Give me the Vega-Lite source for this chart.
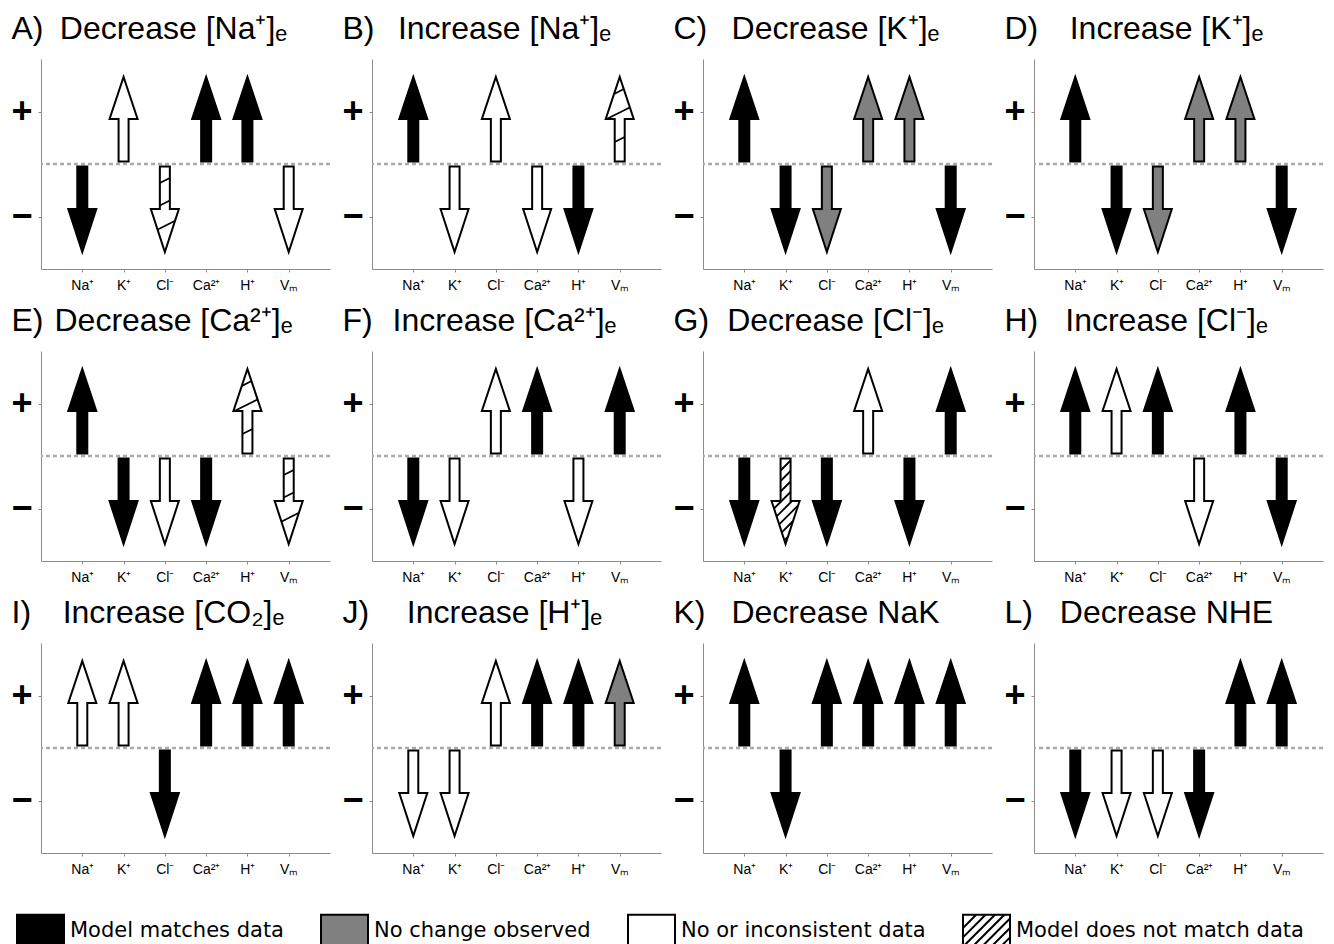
{
"$schema": "https://vega.github.io/schema/vega-lite/v6.json",
"padding": {"left": 10, "top": 12, "right": 5, "bottom": 0},
"background": "white",
"data": {"values": [
{"p":"A","c":"Na⁺","v":-1,"s":"m"},{"p":"A","c":"K⁺","v":1,"s":"w"},{"p":"A","c":"Cl⁻","v":-1,"s":"x","h":"s"},{"p":"A","c":"Ca²⁺","v":1,"s":"m"},{"p":"A","c":"H⁺","v":1,"s":"m"},{"p":"A","c":"Vₘ","v":-1,"s":"w"},
{"p":"B","c":"Na⁺","v":1,"s":"m"},{"p":"B","c":"K⁺","v":-1,"s":"w"},{"p":"B","c":"Cl⁻","v":1,"s":"w"},{"p":"B","c":"Ca²⁺","v":-1,"s":"w"},{"p":"B","c":"H⁺","v":-1,"s":"m"},{"p":"B","c":"Vₘ","v":1,"s":"x","h":"s"},
{"p":"C","c":"Na⁺","v":1,"s":"m"},{"p":"C","c":"K⁺","v":-1,"s":"m"},{"p":"C","c":"Cl⁻","v":-1,"s":"n"},{"p":"C","c":"Ca²⁺","v":1,"s":"n"},{"p":"C","c":"H⁺","v":1,"s":"n"},{"p":"C","c":"Vₘ","v":-1,"s":"m"},
{"p":"D","c":"Na⁺","v":1,"s":"m"},{"p":"D","c":"K⁺","v":-1,"s":"m"},{"p":"D","c":"Cl⁻","v":-1,"s":"n"},{"p":"D","c":"Ca²⁺","v":1,"s":"n"},{"p":"D","c":"H⁺","v":1,"s":"n"},{"p":"D","c":"Vₘ","v":-1,"s":"m"},
{"p":"E","c":"Na⁺","v":1,"s":"m"},{"p":"E","c":"K⁺","v":-1,"s":"m"},{"p":"E","c":"Cl⁻","v":-1,"s":"w"},{"p":"E","c":"Ca²⁺","v":-1,"s":"m"},{"p":"E","c":"H⁺","v":1,"s":"x","h":"s"},{"p":"E","c":"Vₘ","v":-1,"s":"x","h":"s"},
{"p":"F","c":"Na⁺","v":-1,"s":"m"},{"p":"F","c":"K⁺","v":-1,"s":"w"},{"p":"F","c":"Cl⁻","v":1,"s":"w"},{"p":"F","c":"Ca²⁺","v":1,"s":"m"},{"p":"F","c":"H⁺","v":-1,"s":"w"},{"p":"F","c":"Vₘ","v":1,"s":"m"},
{"p":"G","c":"Na⁺","v":-1,"s":"m"},{"p":"G","c":"K⁺","v":-1,"s":"x","h":"d"},{"p":"G","c":"Cl⁻","v":-1,"s":"m"},{"p":"G","c":"Ca²⁺","v":1,"s":"w"},{"p":"G","c":"H⁺","v":-1,"s":"m"},{"p":"G","c":"Vₘ","v":1,"s":"m"},
{"p":"H","c":"Na⁺","v":1,"s":"m"},{"p":"H","c":"K⁺","v":1,"s":"w"},{"p":"H","c":"Cl⁻","v":1,"s":"m"},{"p":"H","c":"Ca²⁺","v":-1,"s":"w"},{"p":"H","c":"H⁺","v":1,"s":"m"},{"p":"H","c":"Vₘ","v":-1,"s":"m"},
{"p":"I","c":"Na⁺","v":1,"s":"w"},{"p":"I","c":"K⁺","v":1,"s":"w"},{"p":"I","c":"Cl⁻","v":-1,"s":"m"},{"p":"I","c":"Ca²⁺","v":1,"s":"m"},{"p":"I","c":"H⁺","v":1,"s":"m"},{"p":"I","c":"Vₘ","v":1,"s":"m"},
{"p":"J","c":"Na⁺","v":-1,"s":"w"},{"p":"J","c":"K⁺","v":-1,"s":"w"},{"p":"J","c":"Cl⁻","v":1,"s":"w"},{"p":"J","c":"Ca²⁺","v":1,"s":"m"},{"p":"J","c":"H⁺","v":1,"s":"m"},{"p":"J","c":"Vₘ","v":1,"s":"n"},
{"p":"K","c":"Na⁺","v":1,"s":"m"},{"p":"K","c":"K⁺","v":-1,"s":"m"},{"p":"K","c":"Cl⁻","v":1,"s":"m"},{"p":"K","c":"Ca²⁺","v":1,"s":"m"},{"p":"K","c":"H⁺","v":1,"s":"m"},{"p":"K","c":"Vₘ","v":1,"s":"m"},
{"p":"L","c":"Na⁺","v":-1,"s":"m"},{"p":"L","c":"K⁺","v":-1,"s":"w"},{"p":"L","c":"Cl⁻","v":-1,"s":"w"},{"p":"L","c":"Ca²⁺","v":-1,"s":"m"},{"p":"L","c":"H⁺","v":1,"s":"m"},{"p":"L","c":"Vₘ","v":1,"s":"m"}
]},
"columns": 4,
"spacing": {"row": 82, "column": 42},
"bounds": "flush",
"concat": [
{"width":289,"height":210,"transform":[{"filter":"datum.p==='A'"}],
"encoding":{"y":{"field":"v","type":"quantitative","scale":{"domain":[-2,2],"nice":false},"axis":{"values":[-1,1],"labelExpr":"datum.value > 0 ? '+' : '−'"},"title":"A)"}},
"layer":[
{"transform":[{"filter":"datum.c==='Na⁺'"}],"mark":{"type":"rule","color":"#aaaaaa","strokeWidth":2.5,"strokeDash":[4,3]},"encoding":{"y":{"datum":0}}},
{"mark":{"type":"point","filled":true,"stroke":"black","strokeWidth":2,"size":10000,"opacity":1},"encoding":{"x":{"field":"c","type":"nominal","scale":{"type":"point","domain":["Na⁺","K⁺","Cl⁻","Ca²⁺","H⁺","Vₘ"],"padding":1},"title":"Decrease [Na⁺]ₑ"},"shape":{"field":"v","type":"nominal","scale":{"domain":[1,-1],"range":["M-0.1,1L-0.1,0.15L-0.28,0.15L0,-0.69L0.28,0.15L0.1,0.15L0.1,1Z","M-0.1,-1L-0.1,-0.15L-0.28,-0.15L0,0.71L0.28,-0.15L0.1,-0.15L0.1,-1Z"]},"legend":null},
"fill":{"field":"s","type":"nominal","scale":{"domain":["m","n","w","x"],"range":["black","#808080","white","white"]},
"legend":{"title":null,"orient":"none","legendX":-25,"legendY":847,"direction":"horizontal","symbolSize":2209,"labelFont":"DejaVu Sans","labelFontSize":21,"labelColor":"black","labelOffset":5,"labelLimit":0,"columnPadding":33,"padding":0,
"labelExpr":"datum.value === 'm' ? 'Model matches data' : datum.value === 'n' ? 'No change observed' : datum.value === 'w' ? 'No or inconsistent data' : 'Model does not match data'",
"encoding":{"symbols":{"shape":{"condition":{"test":"datum.value === 'x'","value":"M-1,-0.68L1,-0.68L1,0.68L-1,0.68ZM-1,-0.12L-0.44,-0.68M-1,0.28L-0.04,-0.68M-1,0.68L0.36,-0.68M-0.6,0.68L0.76,-0.68M-0.2,0.68L1,-0.52M0.2,0.68L1,-0.12M0.6,0.68L1,0.28"},"value":"M-1,-0.68L1,-0.68L1,0.68L-1,0.68Z"},"stroke":{"value":"black"},"strokeWidth":{"value":2}}}}}}},
{"transform":[{"filter":"datum.h==='s'"}],"mark":{"type":"point","filled":false,"color":"black","strokeWidth":1.8,"size":10000,"opacity":1},"encoding":{"x":{"field":"c","type":"nominal"},"shape":{"field":"v","type":"nominal","scale":{"domain":[1,-1],"range":["M-0.1,0.61L0.1,0.51M-0.26,0.15L0.2,-0.08M-0.11,-0.35L0.08,-0.45","M-0.1,-0.67L0.1,-0.77M-0.1,-0.22L0.1,-0.32M-0.14,0.26L0.195,0.09"]},"legend":null}}},
{"transform":[{"filter":"datum.h==='d'"}],"mark":{"type":"point","filled":false,"color":"black","strokeWidth":1.8,"size":10000,"opacity":1},"encoding":{"x":{"field":"c","type":"nominal"},"shape":{"field":"v","type":"nominal","scale":{"domain":[-1],"range":["M-0.1,-0.76L0.1,-0.96M-0.1,-0.55L0.1,-0.75M-0.1,-0.34L0.1,-0.54M-0.231,0L0.1,-0.33M-0.179,0.159L0.13,-0.15M-0.128,0.318L0.251,-0.061M-0.076,0.476L0.15,0.25M-0.025,0.635L0.048,0.562"]},"legend":null}}}
],
"resolve":{"scale":{"shape":"independent"}}},

{"width":289,"height":210,"transform":[{"filter":"datum.p==='B'"}],
"encoding":{"y":{"field":"v","type":"quantitative","scale":{"domain":[-2,2],"nice":false},"axis":{"values":[-1,1],"labelExpr":"datum.value > 0 ? '+' : '−'"},"title":"B)"}},
"layer":[
{"transform":[{"filter":"datum.c==='Na⁺'"}],"mark":{"type":"rule","color":"#aaaaaa","strokeWidth":2.5,"strokeDash":[4,3]},"encoding":{"y":{"datum":0}}},
{"mark":{"type":"point","filled":true,"stroke":"black","strokeWidth":2,"size":10000,"opacity":1},"encoding":{"x":{"field":"c","type":"nominal","scale":{"type":"point","domain":["Na⁺","K⁺","Cl⁻","Ca²⁺","H⁺","Vₘ"],"padding":1},"title":"Increase [Na⁺]ₑ"},"shape":{"field":"v","type":"nominal","scale":{"domain":[1,-1],"range":["M-0.1,1L-0.1,0.15L-0.28,0.15L0,-0.69L0.28,0.15L0.1,0.15L0.1,1Z","M-0.1,-1L-0.1,-0.15L-0.28,-0.15L0,0.71L0.28,-0.15L0.1,-0.15L0.1,-1Z"]},"legend":null},"fill":{"field":"s","type":"nominal","scale":{"domain":["m","n","w","x"],"range":["black","#808080","white","white"]}}}},
{"transform":[{"filter":"datum.h==='s'"}],"mark":{"type":"point","filled":false,"color":"black","strokeWidth":1.8,"size":10000,"opacity":1},"encoding":{"x":{"field":"c","type":"nominal"},"shape":{"field":"v","type":"nominal","scale":{"domain":[1,-1],"range":["M-0.1,0.61L0.1,0.51M-0.26,0.15L0.2,-0.08M-0.11,-0.35L0.08,-0.45","M-0.1,-0.67L0.1,-0.77M-0.1,-0.22L0.1,-0.32M-0.14,0.26L0.195,0.09"]},"legend":null}}},
{"transform":[{"filter":"datum.h==='d'"}],"mark":{"type":"point","filled":false,"color":"black","strokeWidth":1.8,"size":10000,"opacity":1},"encoding":{"x":{"field":"c","type":"nominal"},"shape":{"field":"v","type":"nominal","scale":{"domain":[-1],"range":["M-0.1,-0.76L0.1,-0.96M-0.1,-0.55L0.1,-0.75M-0.1,-0.34L0.1,-0.54M-0.231,0L0.1,-0.33M-0.179,0.159L0.13,-0.15M-0.128,0.318L0.251,-0.061M-0.076,0.476L0.15,0.25M-0.025,0.635L0.048,0.562"]},"legend":null}}}
],
"resolve":{"scale":{"shape":"independent"}}},

{"width":289,"height":210,"transform":[{"filter":"datum.p==='C'"}],
"encoding":{"y":{"field":"v","type":"quantitative","scale":{"domain":[-2,2],"nice":false},"axis":{"values":[-1,1],"labelExpr":"datum.value > 0 ? '+' : '−'"},"title":"C)"}},
"layer":[
{"transform":[{"filter":"datum.c==='Na⁺'"}],"mark":{"type":"rule","color":"#aaaaaa","strokeWidth":2.5,"strokeDash":[4,3]},"encoding":{"y":{"datum":0}}},
{"mark":{"type":"point","filled":true,"stroke":"black","strokeWidth":2,"size":10000,"opacity":1},"encoding":{"x":{"field":"c","type":"nominal","scale":{"type":"point","domain":["Na⁺","K⁺","Cl⁻","Ca²⁺","H⁺","Vₘ"],"padding":1},"title":"Decrease [K⁺]ₑ"},"shape":{"field":"v","type":"nominal","scale":{"domain":[1,-1],"range":["M-0.1,1L-0.1,0.15L-0.28,0.15L0,-0.69L0.28,0.15L0.1,0.15L0.1,1Z","M-0.1,-1L-0.1,-0.15L-0.28,-0.15L0,0.71L0.28,-0.15L0.1,-0.15L0.1,-1Z"]},"legend":null},"fill":{"field":"s","type":"nominal","scale":{"domain":["m","n","w","x"],"range":["black","#808080","white","white"]}}}},
{"transform":[{"filter":"datum.h==='s'"}],"mark":{"type":"point","filled":false,"color":"black","strokeWidth":1.8,"size":10000,"opacity":1},"encoding":{"x":{"field":"c","type":"nominal"},"shape":{"field":"v","type":"nominal","scale":{"domain":[1,-1],"range":["M-0.1,0.61L0.1,0.51M-0.26,0.15L0.2,-0.08M-0.11,-0.35L0.08,-0.45","M-0.1,-0.67L0.1,-0.77M-0.1,-0.22L0.1,-0.32M-0.14,0.26L0.195,0.09"]},"legend":null}}},
{"transform":[{"filter":"datum.h==='d'"}],"mark":{"type":"point","filled":false,"color":"black","strokeWidth":1.8,"size":10000,"opacity":1},"encoding":{"x":{"field":"c","type":"nominal"},"shape":{"field":"v","type":"nominal","scale":{"domain":[-1],"range":["M-0.1,-0.76L0.1,-0.96M-0.1,-0.55L0.1,-0.75M-0.1,-0.34L0.1,-0.54M-0.231,0L0.1,-0.33M-0.179,0.159L0.13,-0.15M-0.128,0.318L0.251,-0.061M-0.076,0.476L0.15,0.25M-0.025,0.635L0.048,0.562"]},"legend":null}}}
],
"resolve":{"scale":{"shape":"independent"}}},

{"width":289,"height":210,"transform":[{"filter":"datum.p==='D'"}],
"encoding":{"y":{"field":"v","type":"quantitative","scale":{"domain":[-2,2],"nice":false},"axis":{"values":[-1,1],"labelExpr":"datum.value > 0 ? '+' : '−'"},"title":"D)"}},
"layer":[
{"transform":[{"filter":"datum.c==='Na⁺'"}],"mark":{"type":"rule","color":"#aaaaaa","strokeWidth":2.5,"strokeDash":[4,3]},"encoding":{"y":{"datum":0}}},
{"mark":{"type":"point","filled":true,"stroke":"black","strokeWidth":2,"size":10000,"opacity":1},"encoding":{"x":{"field":"c","type":"nominal","scale":{"type":"point","domain":["Na⁺","K⁺","Cl⁻","Ca²⁺","H⁺","Vₘ"],"padding":1},"title":"Increase [K⁺]ₑ"},"shape":{"field":"v","type":"nominal","scale":{"domain":[1,-1],"range":["M-0.1,1L-0.1,0.15L-0.28,0.15L0,-0.69L0.28,0.15L0.1,0.15L0.1,1Z","M-0.1,-1L-0.1,-0.15L-0.28,-0.15L0,0.71L0.28,-0.15L0.1,-0.15L0.1,-1Z"]},"legend":null},"fill":{"field":"s","type":"nominal","scale":{"domain":["m","n","w","x"],"range":["black","#808080","white","white"]}}}},
{"transform":[{"filter":"datum.h==='s'"}],"mark":{"type":"point","filled":false,"color":"black","strokeWidth":1.8,"size":10000,"opacity":1},"encoding":{"x":{"field":"c","type":"nominal"},"shape":{"field":"v","type":"nominal","scale":{"domain":[1,-1],"range":["M-0.1,0.61L0.1,0.51M-0.26,0.15L0.2,-0.08M-0.11,-0.35L0.08,-0.45","M-0.1,-0.67L0.1,-0.77M-0.1,-0.22L0.1,-0.32M-0.14,0.26L0.195,0.09"]},"legend":null}}},
{"transform":[{"filter":"datum.h==='d'"}],"mark":{"type":"point","filled":false,"color":"black","strokeWidth":1.8,"size":10000,"opacity":1},"encoding":{"x":{"field":"c","type":"nominal"},"shape":{"field":"v","type":"nominal","scale":{"domain":[-1],"range":["M-0.1,-0.76L0.1,-0.96M-0.1,-0.55L0.1,-0.75M-0.1,-0.34L0.1,-0.54M-0.231,0L0.1,-0.33M-0.179,0.159L0.13,-0.15M-0.128,0.318L0.251,-0.061M-0.076,0.476L0.15,0.25M-0.025,0.635L0.048,0.562"]},"legend":null}}}
],
"resolve":{"scale":{"shape":"independent"}}},

{"width":289,"height":210,"transform":[{"filter":"datum.p==='E'"}],
"encoding":{"y":{"field":"v","type":"quantitative","scale":{"domain":[-2,2],"nice":false},"axis":{"values":[-1,1],"labelExpr":"datum.value > 0 ? '+' : '−'"},"title":"E)"}},
"layer":[
{"transform":[{"filter":"datum.c==='Na⁺'"}],"mark":{"type":"rule","color":"#aaaaaa","strokeWidth":2.5,"strokeDash":[4,3]},"encoding":{"y":{"datum":0}}},
{"mark":{"type":"point","filled":true,"stroke":"black","strokeWidth":2,"size":10000,"opacity":1},"encoding":{"x":{"field":"c","type":"nominal","scale":{"type":"point","domain":["Na⁺","K⁺","Cl⁻","Ca²⁺","H⁺","Vₘ"],"padding":1},"title":"Decrease [Ca²⁺]ₑ"},"shape":{"field":"v","type":"nominal","scale":{"domain":[1,-1],"range":["M-0.1,1L-0.1,0.15L-0.28,0.15L0,-0.69L0.28,0.15L0.1,0.15L0.1,1Z","M-0.1,-1L-0.1,-0.15L-0.28,-0.15L0,0.71L0.28,-0.15L0.1,-0.15L0.1,-1Z"]},"legend":null},"fill":{"field":"s","type":"nominal","scale":{"domain":["m","n","w","x"],"range":["black","#808080","white","white"]}}}},
{"transform":[{"filter":"datum.h==='s'"}],"mark":{"type":"point","filled":false,"color":"black","strokeWidth":1.8,"size":10000,"opacity":1},"encoding":{"x":{"field":"c","type":"nominal"},"shape":{"field":"v","type":"nominal","scale":{"domain":[1,-1],"range":["M-0.1,0.61L0.1,0.51M-0.26,0.15L0.2,-0.08M-0.11,-0.35L0.08,-0.45","M-0.1,-0.67L0.1,-0.77M-0.1,-0.22L0.1,-0.32M-0.14,0.26L0.195,0.09"]},"legend":null}}},
{"transform":[{"filter":"datum.h==='d'"}],"mark":{"type":"point","filled":false,"color":"black","strokeWidth":1.8,"size":10000,"opacity":1},"encoding":{"x":{"field":"c","type":"nominal"},"shape":{"field":"v","type":"nominal","scale":{"domain":[-1],"range":["M-0.1,-0.76L0.1,-0.96M-0.1,-0.55L0.1,-0.75M-0.1,-0.34L0.1,-0.54M-0.231,0L0.1,-0.33M-0.179,0.159L0.13,-0.15M-0.128,0.318L0.251,-0.061M-0.076,0.476L0.15,0.25M-0.025,0.635L0.048,0.562"]},"legend":null}}}
],
"resolve":{"scale":{"shape":"independent"}}},

{"width":289,"height":210,"transform":[{"filter":"datum.p==='F'"}],
"encoding":{"y":{"field":"v","type":"quantitative","scale":{"domain":[-2,2],"nice":false},"axis":{"values":[-1,1],"labelExpr":"datum.value > 0 ? '+' : '−'"},"title":"F)"}},
"layer":[
{"transform":[{"filter":"datum.c==='Na⁺'"}],"mark":{"type":"rule","color":"#aaaaaa","strokeWidth":2.5,"strokeDash":[4,3]},"encoding":{"y":{"datum":0}}},
{"mark":{"type":"point","filled":true,"stroke":"black","strokeWidth":2,"size":10000,"opacity":1},"encoding":{"x":{"field":"c","type":"nominal","scale":{"type":"point","domain":["Na⁺","K⁺","Cl⁻","Ca²⁺","H⁺","Vₘ"],"padding":1},"title":"Increase [Ca²⁺]ₑ"},"shape":{"field":"v","type":"nominal","scale":{"domain":[1,-1],"range":["M-0.1,1L-0.1,0.15L-0.28,0.15L0,-0.69L0.28,0.15L0.1,0.15L0.1,1Z","M-0.1,-1L-0.1,-0.15L-0.28,-0.15L0,0.71L0.28,-0.15L0.1,-0.15L0.1,-1Z"]},"legend":null},"fill":{"field":"s","type":"nominal","scale":{"domain":["m","n","w","x"],"range":["black","#808080","white","white"]}}}},
{"transform":[{"filter":"datum.h==='s'"}],"mark":{"type":"point","filled":false,"color":"black","strokeWidth":1.8,"size":10000,"opacity":1},"encoding":{"x":{"field":"c","type":"nominal"},"shape":{"field":"v","type":"nominal","scale":{"domain":[1,-1],"range":["M-0.1,0.61L0.1,0.51M-0.26,0.15L0.2,-0.08M-0.11,-0.35L0.08,-0.45","M-0.1,-0.67L0.1,-0.77M-0.1,-0.22L0.1,-0.32M-0.14,0.26L0.195,0.09"]},"legend":null}}},
{"transform":[{"filter":"datum.h==='d'"}],"mark":{"type":"point","filled":false,"color":"black","strokeWidth":1.8,"size":10000,"opacity":1},"encoding":{"x":{"field":"c","type":"nominal"},"shape":{"field":"v","type":"nominal","scale":{"domain":[-1],"range":["M-0.1,-0.76L0.1,-0.96M-0.1,-0.55L0.1,-0.75M-0.1,-0.34L0.1,-0.54M-0.231,0L0.1,-0.33M-0.179,0.159L0.13,-0.15M-0.128,0.318L0.251,-0.061M-0.076,0.476L0.15,0.25M-0.025,0.635L0.048,0.562"]},"legend":null}}}
],
"resolve":{"scale":{"shape":"independent"}}},

{"width":289,"height":210,"transform":[{"filter":"datum.p==='G'"}],
"encoding":{"y":{"field":"v","type":"quantitative","scale":{"domain":[-2,2],"nice":false},"axis":{"values":[-1,1],"labelExpr":"datum.value > 0 ? '+' : '−'"},"title":"G)"}},
"layer":[
{"transform":[{"filter":"datum.c==='Na⁺'"}],"mark":{"type":"rule","color":"#aaaaaa","strokeWidth":2.5,"strokeDash":[4,3]},"encoding":{"y":{"datum":0}}},
{"mark":{"type":"point","filled":true,"stroke":"black","strokeWidth":2,"size":10000,"opacity":1},"encoding":{"x":{"field":"c","type":"nominal","scale":{"type":"point","domain":["Na⁺","K⁺","Cl⁻","Ca²⁺","H⁺","Vₘ"],"padding":1},"title":"Decrease [Cl⁻]ₑ"},"shape":{"field":"v","type":"nominal","scale":{"domain":[1,-1],"range":["M-0.1,1L-0.1,0.15L-0.28,0.15L0,-0.69L0.28,0.15L0.1,0.15L0.1,1Z","M-0.1,-1L-0.1,-0.15L-0.28,-0.15L0,0.71L0.28,-0.15L0.1,-0.15L0.1,-1Z"]},"legend":null},"fill":{"field":"s","type":"nominal","scale":{"domain":["m","n","w","x"],"range":["black","#808080","white","white"]}}}},
{"transform":[{"filter":"datum.h==='s'"}],"mark":{"type":"point","filled":false,"color":"black","strokeWidth":1.8,"size":10000,"opacity":1},"encoding":{"x":{"field":"c","type":"nominal"},"shape":{"field":"v","type":"nominal","scale":{"domain":[1,-1],"range":["M-0.1,0.61L0.1,0.51M-0.26,0.15L0.2,-0.08M-0.11,-0.35L0.08,-0.45","M-0.1,-0.67L0.1,-0.77M-0.1,-0.22L0.1,-0.32M-0.14,0.26L0.195,0.09"]},"legend":null}}},
{"transform":[{"filter":"datum.h==='d'"}],"mark":{"type":"point","filled":false,"color":"black","strokeWidth":1.8,"size":10000,"opacity":1},"encoding":{"x":{"field":"c","type":"nominal"},"shape":{"field":"v","type":"nominal","scale":{"domain":[-1],"range":["M-0.1,-0.76L0.1,-0.96M-0.1,-0.55L0.1,-0.75M-0.1,-0.34L0.1,-0.54M-0.231,0L0.1,-0.33M-0.179,0.159L0.13,-0.15M-0.128,0.318L0.251,-0.061M-0.076,0.476L0.15,0.25M-0.025,0.635L0.048,0.562"]},"legend":null}}}
],
"resolve":{"scale":{"shape":"independent"}}},

{"width":289,"height":210,"transform":[{"filter":"datum.p==='H'"}],
"encoding":{"y":{"field":"v","type":"quantitative","scale":{"domain":[-2,2],"nice":false},"axis":{"values":[-1,1],"labelExpr":"datum.value > 0 ? '+' : '−'"},"title":"H)"}},
"layer":[
{"transform":[{"filter":"datum.c==='Na⁺'"}],"mark":{"type":"rule","color":"#aaaaaa","strokeWidth":2.5,"strokeDash":[4,3]},"encoding":{"y":{"datum":0}}},
{"mark":{"type":"point","filled":true,"stroke":"black","strokeWidth":2,"size":10000,"opacity":1},"encoding":{"x":{"field":"c","type":"nominal","scale":{"type":"point","domain":["Na⁺","K⁺","Cl⁻","Ca²⁺","H⁺","Vₘ"],"padding":1},"title":"Increase [Cl⁻]ₑ"},"shape":{"field":"v","type":"nominal","scale":{"domain":[1,-1],"range":["M-0.1,1L-0.1,0.15L-0.28,0.15L0,-0.69L0.28,0.15L0.1,0.15L0.1,1Z","M-0.1,-1L-0.1,-0.15L-0.28,-0.15L0,0.71L0.28,-0.15L0.1,-0.15L0.1,-1Z"]},"legend":null},"fill":{"field":"s","type":"nominal","scale":{"domain":["m","n","w","x"],"range":["black","#808080","white","white"]}}}},
{"transform":[{"filter":"datum.h==='s'"}],"mark":{"type":"point","filled":false,"color":"black","strokeWidth":1.8,"size":10000,"opacity":1},"encoding":{"x":{"field":"c","type":"nominal"},"shape":{"field":"v","type":"nominal","scale":{"domain":[1,-1],"range":["M-0.1,0.61L0.1,0.51M-0.26,0.15L0.2,-0.08M-0.11,-0.35L0.08,-0.45","M-0.1,-0.67L0.1,-0.77M-0.1,-0.22L0.1,-0.32M-0.14,0.26L0.195,0.09"]},"legend":null}}},
{"transform":[{"filter":"datum.h==='d'"}],"mark":{"type":"point","filled":false,"color":"black","strokeWidth":1.8,"size":10000,"opacity":1},"encoding":{"x":{"field":"c","type":"nominal"},"shape":{"field":"v","type":"nominal","scale":{"domain":[-1],"range":["M-0.1,-0.76L0.1,-0.96M-0.1,-0.55L0.1,-0.75M-0.1,-0.34L0.1,-0.54M-0.231,0L0.1,-0.33M-0.179,0.159L0.13,-0.15M-0.128,0.318L0.251,-0.061M-0.076,0.476L0.15,0.25M-0.025,0.635L0.048,0.562"]},"legend":null}}}
],
"resolve":{"scale":{"shape":"independent"}}},

{"width":289,"height":210,"transform":[{"filter":"datum.p==='I'"}],
"encoding":{"y":{"field":"v","type":"quantitative","scale":{"domain":[-2,2],"nice":false},"axis":{"values":[-1,1],"labelExpr":"datum.value > 0 ? '+' : '−'"},"title":"I)"}},
"layer":[
{"transform":[{"filter":"datum.c==='Na⁺'"}],"mark":{"type":"rule","color":"#aaaaaa","strokeWidth":2.5,"strokeDash":[4,3]},"encoding":{"y":{"datum":0}}},
{"mark":{"type":"point","filled":true,"stroke":"black","strokeWidth":2,"size":10000,"opacity":1},"encoding":{"x":{"field":"c","type":"nominal","scale":{"type":"point","domain":["Na⁺","K⁺","Cl⁻","Ca²⁺","H⁺","Vₘ"],"padding":1},"title":"Increase [CO₂]ₑ"},"shape":{"field":"v","type":"nominal","scale":{"domain":[1,-1],"range":["M-0.1,1L-0.1,0.15L-0.28,0.15L0,-0.69L0.28,0.15L0.1,0.15L0.1,1Z","M-0.1,-1L-0.1,-0.15L-0.28,-0.15L0,0.71L0.28,-0.15L0.1,-0.15L0.1,-1Z"]},"legend":null},"fill":{"field":"s","type":"nominal","scale":{"domain":["m","n","w","x"],"range":["black","#808080","white","white"]}}}},
{"transform":[{"filter":"datum.h==='s'"}],"mark":{"type":"point","filled":false,"color":"black","strokeWidth":1.8,"size":10000,"opacity":1},"encoding":{"x":{"field":"c","type":"nominal"},"shape":{"field":"v","type":"nominal","scale":{"domain":[1,-1],"range":["M-0.1,0.61L0.1,0.51M-0.26,0.15L0.2,-0.08M-0.11,-0.35L0.08,-0.45","M-0.1,-0.67L0.1,-0.77M-0.1,-0.22L0.1,-0.32M-0.14,0.26L0.195,0.09"]},"legend":null}}},
{"transform":[{"filter":"datum.h==='d'"}],"mark":{"type":"point","filled":false,"color":"black","strokeWidth":1.8,"size":10000,"opacity":1},"encoding":{"x":{"field":"c","type":"nominal"},"shape":{"field":"v","type":"nominal","scale":{"domain":[-1],"range":["M-0.1,-0.76L0.1,-0.96M-0.1,-0.55L0.1,-0.75M-0.1,-0.34L0.1,-0.54M-0.231,0L0.1,-0.33M-0.179,0.159L0.13,-0.15M-0.128,0.318L0.251,-0.061M-0.076,0.476L0.15,0.25M-0.025,0.635L0.048,0.562"]},"legend":null}}}
],
"resolve":{"scale":{"shape":"independent"}}},

{"width":289,"height":210,"transform":[{"filter":"datum.p==='J'"}],
"encoding":{"y":{"field":"v","type":"quantitative","scale":{"domain":[-2,2],"nice":false},"axis":{"values":[-1,1],"labelExpr":"datum.value > 0 ? '+' : '−'"},"title":"J)"}},
"layer":[
{"transform":[{"filter":"datum.c==='Na⁺'"}],"mark":{"type":"rule","color":"#aaaaaa","strokeWidth":2.5,"strokeDash":[4,3]},"encoding":{"y":{"datum":0}}},
{"mark":{"type":"point","filled":true,"stroke":"black","strokeWidth":2,"size":10000,"opacity":1},"encoding":{"x":{"field":"c","type":"nominal","scale":{"type":"point","domain":["Na⁺","K⁺","Cl⁻","Ca²⁺","H⁺","Vₘ"],"padding":1},"title":"Increase [H⁺]ₑ"},"shape":{"field":"v","type":"nominal","scale":{"domain":[1,-1],"range":["M-0.1,1L-0.1,0.15L-0.28,0.15L0,-0.69L0.28,0.15L0.1,0.15L0.1,1Z","M-0.1,-1L-0.1,-0.15L-0.28,-0.15L0,0.71L0.28,-0.15L0.1,-0.15L0.1,-1Z"]},"legend":null},"fill":{"field":"s","type":"nominal","scale":{"domain":["m","n","w","x"],"range":["black","#808080","white","white"]}}}},
{"transform":[{"filter":"datum.h==='s'"}],"mark":{"type":"point","filled":false,"color":"black","strokeWidth":1.8,"size":10000,"opacity":1},"encoding":{"x":{"field":"c","type":"nominal"},"shape":{"field":"v","type":"nominal","scale":{"domain":[1,-1],"range":["M-0.1,0.61L0.1,0.51M-0.26,0.15L0.2,-0.08M-0.11,-0.35L0.08,-0.45","M-0.1,-0.67L0.1,-0.77M-0.1,-0.22L0.1,-0.32M-0.14,0.26L0.195,0.09"]},"legend":null}}},
{"transform":[{"filter":"datum.h==='d'"}],"mark":{"type":"point","filled":false,"color":"black","strokeWidth":1.8,"size":10000,"opacity":1},"encoding":{"x":{"field":"c","type":"nominal"},"shape":{"field":"v","type":"nominal","scale":{"domain":[-1],"range":["M-0.1,-0.76L0.1,-0.96M-0.1,-0.55L0.1,-0.75M-0.1,-0.34L0.1,-0.54M-0.231,0L0.1,-0.33M-0.179,0.159L0.13,-0.15M-0.128,0.318L0.251,-0.061M-0.076,0.476L0.15,0.25M-0.025,0.635L0.048,0.562"]},"legend":null}}}
],
"resolve":{"scale":{"shape":"independent"}}},

{"width":289,"height":210,"transform":[{"filter":"datum.p==='K'"}],
"encoding":{"y":{"field":"v","type":"quantitative","scale":{"domain":[-2,2],"nice":false},"axis":{"values":[-1,1],"labelExpr":"datum.value > 0 ? '+' : '−'"},"title":"K)"}},
"layer":[
{"transform":[{"filter":"datum.c==='Na⁺'"}],"mark":{"type":"rule","color":"#aaaaaa","strokeWidth":2.5,"strokeDash":[4,3]},"encoding":{"y":{"datum":0}}},
{"mark":{"type":"point","filled":true,"stroke":"black","strokeWidth":2,"size":10000,"opacity":1},"encoding":{"x":{"field":"c","type":"nominal","scale":{"type":"point","domain":["Na⁺","K⁺","Cl⁻","Ca²⁺","H⁺","Vₘ"],"padding":1},"title":"Decrease NaK"},"shape":{"field":"v","type":"nominal","scale":{"domain":[1,-1],"range":["M-0.1,1L-0.1,0.15L-0.28,0.15L0,-0.69L0.28,0.15L0.1,0.15L0.1,1Z","M-0.1,-1L-0.1,-0.15L-0.28,-0.15L0,0.71L0.28,-0.15L0.1,-0.15L0.1,-1Z"]},"legend":null},"fill":{"field":"s","type":"nominal","scale":{"domain":["m","n","w","x"],"range":["black","#808080","white","white"]}}}},
{"transform":[{"filter":"datum.h==='s'"}],"mark":{"type":"point","filled":false,"color":"black","strokeWidth":1.8,"size":10000,"opacity":1},"encoding":{"x":{"field":"c","type":"nominal"},"shape":{"field":"v","type":"nominal","scale":{"domain":[1,-1],"range":["M-0.1,0.61L0.1,0.51M-0.26,0.15L0.2,-0.08M-0.11,-0.35L0.08,-0.45","M-0.1,-0.67L0.1,-0.77M-0.1,-0.22L0.1,-0.32M-0.14,0.26L0.195,0.09"]},"legend":null}}},
{"transform":[{"filter":"datum.h==='d'"}],"mark":{"type":"point","filled":false,"color":"black","strokeWidth":1.8,"size":10000,"opacity":1},"encoding":{"x":{"field":"c","type":"nominal"},"shape":{"field":"v","type":"nominal","scale":{"domain":[-1],"range":["M-0.1,-0.76L0.1,-0.96M-0.1,-0.55L0.1,-0.75M-0.1,-0.34L0.1,-0.54M-0.231,0L0.1,-0.33M-0.179,0.159L0.13,-0.15M-0.128,0.318L0.251,-0.061M-0.076,0.476L0.15,0.25M-0.025,0.635L0.048,0.562"]},"legend":null}}}
],
"resolve":{"scale":{"shape":"independent"}}},

{"width":289,"height":210,"transform":[{"filter":"datum.p==='L'"}],
"encoding":{"y":{"field":"v","type":"quantitative","scale":{"domain":[-2,2],"nice":false},"axis":{"values":[-1,1],"labelExpr":"datum.value > 0 ? '+' : '−'"},"title":"L)"}},
"layer":[
{"transform":[{"filter":"datum.c==='Na⁺'"}],"mark":{"type":"rule","color":"#aaaaaa","strokeWidth":2.5,"strokeDash":[4,3]},"encoding":{"y":{"datum":0}}},
{"mark":{"type":"point","filled":true,"stroke":"black","strokeWidth":2,"size":10000,"opacity":1},"encoding":{"x":{"field":"c","type":"nominal","scale":{"type":"point","domain":["Na⁺","K⁺","Cl⁻","Ca²⁺","H⁺","Vₘ"],"padding":1},"title":"Decrease NHE"},"shape":{"field":"v","type":"nominal","scale":{"domain":[1,-1],"range":["M-0.1,1L-0.1,0.15L-0.28,0.15L0,-0.69L0.28,0.15L0.1,0.15L0.1,1Z","M-0.1,-1L-0.1,-0.15L-0.28,-0.15L0,0.71L0.28,-0.15L0.1,-0.15L0.1,-1Z"]},"legend":null},"fill":{"field":"s","type":"nominal","scale":{"domain":["m","n","w","x"],"range":["black","#808080","white","white"]}}}},
{"transform":[{"filter":"datum.h==='s'"}],"mark":{"type":"point","filled":false,"color":"black","strokeWidth":1.8,"size":10000,"opacity":1},"encoding":{"x":{"field":"c","type":"nominal"},"shape":{"field":"v","type":"nominal","scale":{"domain":[1,-1],"range":["M-0.1,0.61L0.1,0.51M-0.26,0.15L0.2,-0.08M-0.11,-0.35L0.08,-0.45","M-0.1,-0.67L0.1,-0.77M-0.1,-0.22L0.1,-0.32M-0.14,0.26L0.195,0.09"]},"legend":null}}},
{"transform":[{"filter":"datum.h==='d'"}],"mark":{"type":"point","filled":false,"color":"black","strokeWidth":1.8,"size":10000,"opacity":1},"encoding":{"x":{"field":"c","type":"nominal"},"shape":{"field":"v","type":"nominal","scale":{"domain":[-1],"range":["M-0.1,-0.76L0.1,-0.96M-0.1,-0.55L0.1,-0.75M-0.1,-0.34L0.1,-0.54M-0.231,0L0.1,-0.33M-0.179,0.159L0.13,-0.15M-0.128,0.318L0.251,-0.061M-0.076,0.476L0.15,0.25M-0.025,0.635L0.048,0.562"]},"legend":null}}}
],
"resolve":{"scale":{"shape":"independent"}}}
],
"config": {
"view": {"stroke": null},
"font": "Liberation Sans",
"axis": {"grid": false, "domainColor": "#8c8c8c", "domainWidth": 1, "tickColor": "#8c8c8c", "tickSize": 3, "labelColor": "black", "titleColor": "black", "titleFont": "Liberation Sans", "titleFontSize": 32, "titleFontWeight": "normal", "titleBaseline": "alphabetic", "labelFont": "Liberation Sans"},
"axisX": {"labelAngle": 0, "labelFontSize": 14, "labelPadding": 6, "titleX": 132, "titleY": -231, "titleAlign": "center"},
"axisY": {"labelFontSize": 36, "labelFontWeight": "bold", "labelPadding": 6, "titleAngle": 0, "titleX": -30, "titleY": -21, "titleAlign": "left"}
}
}
